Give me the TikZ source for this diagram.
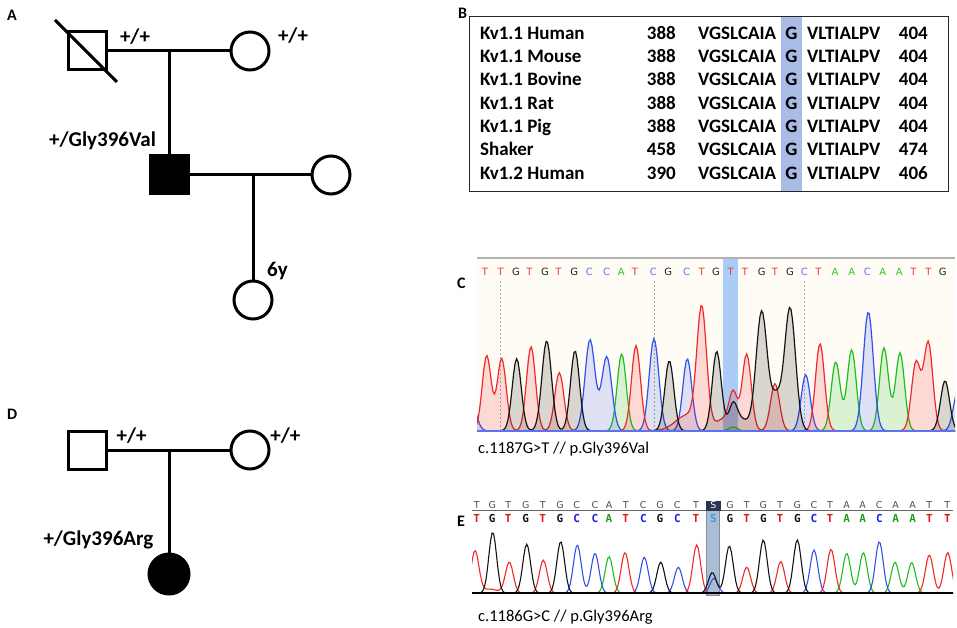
\documentclass[tikz,border=0pt]{standalone}
\usepackage{fontspec}
\setmainfont{Carlito}
\newfontfamily\dvs{DejaVu Sans}
\newfontfamily\dvm{DejaVu Sans Mono}
\definecolor{cR}{RGB}{240,40,40}
\definecolor{cK}{RGB}{20,20,20}
\definecolor{cB}{RGB}{50,80,235}
\definecolor{cG}{RGB}{30,190,30}
\definecolor{hlB}{RGB}{170,188,230}
\definecolor{hlC}{RGB}{170,205,248}
\definecolor{hlE}{RGB}{172,188,212}
\definecolor{navy}{RGB}{40,55,80}
\definecolor{cream}{RGB}{255,252,245}
% letters panel C
\definecolor{lcT}{RGB}{240,60,60}
\definecolor{lcG}{RGB}{30,30,30}
\definecolor{lcC}{RGB}{100,115,240}
\definecolor{lcA}{RGB}{40,200,40}
% letters panel E
\definecolor{leT}{RGB}{230,20,20}
\definecolor{leG}{RGB}{20,20,20}
\definecolor{leC}{RGB}{30,30,230}
\definecolor{leA}{RGB}{30,160,30}
\definecolor{leS}{RGB}{60,160,220}
\def\letS{S}
\begin{document}
\begin{tikzpicture}[x=1pt,y=-1pt,
  declare function={
    pk(\xa,\ca,\ha,\sa)=\ha*exp(-0.5*(min(abs(\xa-\ca)/\sa,4))^2);
    redC(\xa)=pk(\xa,486.7,75,4.5)+pk(\xa,501.7,72,4.5)+pk(\xa,531,84,4.5)+pk(\xa,559.3,58,4.5)+pk(\xa,636,85,4.5)+pk(\xa,701.7,117,4.8)+pk(\xa,688,16,12)+pk(\xa,725,12,9)+pk(\xa,733.3,32,4)+pk(\xa,746.7,76,4.5)+pk(\xa,775,47,4.5)+pk(\xa,820,87,4.5)+pk(\xa,916,68,4.5)+pk(\xa,928.3,88,4.5);
    blkC(\xa)=pk(\xa,516.7,72,4.5)+pk(\xa,546.7,90,4.8)+pk(\xa,575,80,4.5)+pk(\xa,669.3,70,4.5)+pk(\xa,716.7,79,4.5)+pk(\xa,740,12,9)+pk(\xa,733,20,4)+pk(\xa,761.7,119,5.5)+pk(\xa,776,32,5)+pk(\xa,790,123,5.5)+pk(\xa,945,50,4.5);
    bluC(\xa)=pk(\xa,471,30,5)+pk(\xa,590,91,5)+pk(\xa,606.7,74,5)+pk(\xa,654,92,4.8)+pk(\xa,687.3,72,4.5)+pk(\xa,805.7,56,4.5)+pk(\xa,868.3,119,5)+pk(\xa,958,40,4.5);
    grnC(\xa)=pk(\xa,621.7,77,4.5)+pk(\xa,733,4,4)+pk(\xa,835.7,69,4.5)+pk(\xa,851.7,81,4.5)+pk(\xa,884,83,4.5)+pk(\xa,900,78,4.5);
    redE(\xa)=pk(\xa,475,42,3.9)+pk(\xa,490,4,8)+pk(\xa,509.3,31,3.9)+pk(\xa,543.3,33,3.9)+pk(\xa,625,40.6,3.9)+pk(\xa,696.7,48.3,3.9)+pk(\xa,746.7,26,3.9)+pk(\xa,780.7,31.6,3.9)+pk(\xa,831,44,3.9)+pk(\xa,929.3,38.3,3.9)+pk(\xa,947.7,40.6,3.9);
    blkE(\xa)=pk(\xa,492.7,61,3.9)+pk(\xa,526.7,49,3.9)+pk(\xa,560.7,51.6,3.9)+pk(\xa,660.7,31,3.9)+pk(\xa,712.3,20.6,3.9)+pk(\xa,729.3,47.3,3.9)+pk(\xa,763.3,53.3,3.9)+pk(\xa,797.3,53.3,3.9);
    bluE(\xa)=pk(\xa,577.3,48.3,3.9)+pk(\xa,595,40,3.9)+pk(\xa,644.3,36,3.9)+pk(\xa,678.3,26,3.9)+pk(\xa,714,15,3.9)+pk(\xa,814,43.3,3.9)+pk(\xa,879.3,51.6,3.9);
    grnE(\xa)=pk(\xa,609,36.6,3.9)+pk(\xa,846.7,40,3.9)+pk(\xa,863.3,40.6,3.9)+pk(\xa,895,31,3.9)+pk(\xa,911.7,30.6,3.9);
  },
  ped/.style={line width=3pt},
  male/.style={draw,rectangle,line width=3pt,minimum size=38pt,inner sep=0pt},
  female/.style={draw,circle,line width=3pt,minimum size=38pt,inner sep=0pt},
  plbl/.style={font=\fontsize{21}{21}\selectfont\bfseries,inner sep=0pt},
  panel/.style={font=\fontsize{16}{16}\selectfont\bfseries,inner sep=0pt,anchor=base west},
  tb/.style={font=\fontsize{19}{19}\selectfont\bfseries,inner sep=0pt},
  captxt/.style={font=\fontsize{16.5}{16.5}\selectfont,inner sep=0pt,anchor=base west},
  chC/.style={line width=1.2pt,fill opacity=0.16},
  chE/.style={line width=1.1pt},
]
\useasboundingbox (0,0) rectangle (957,628);

% ---------------- Panel labels
\node[panel] (lA) at (7,21) {A};
\node[panel] (lB) at (458,19) {B};
\node[panel] (lC) at (457,288) {C};
\node[panel] (lD) at (7,419) {D};
\node[panel] (lE) at (457,526) {E};

% ---------------- Panel A pedigree
\node[male] (a1) at (87,51) {};
\draw[ped] (55,20) -- (117,82);
\node[female] (a2) at (250,51) {};
\coordinate (a12) at (169,51);
\draw[ped] (a1) -- (a2);
\node[male,fill=black] (a3) at (169,175) {};
\draw[ped] (a12) -- (a3);
\node[female] (a4) at (331,175) {};
\draw[ped] (a3) -- (a4);
\coordinate (a34) at (253,175);
\node[female] (a5) at (253,300) {};
\draw[ped] (a34) -- (a5);
\node[plbl] (ta1) at (135,37) {+/+};
\node[plbl] (ta2) at (293,35.5) {+/+};
\node[plbl,anchor=base west] (ta3) at (49,146.7) {+/Gly396Val};
\node[plbl,anchor=base west] (ta5) at (267,276.7) {6y};

% ---------------- Panel D pedigree
\node[male] (d1) at (87,450) {};
\node[female] (d2) at (250,450) {};
\coordinate (d12) at (169,450);
\draw[ped] (d1) -- (d2);
\node[female,fill=black,minimum size=40pt] (d3) at (169,574) {};
\draw[ped] (d12) -- (d3);
\node[plbl] (td1) at (131.7,435.3) {+/+};
\node[plbl] (td2) at (285.3,435.8) {+/+};
\node[plbl,anchor=base west] (td3) at (43.3,545.7) {+/Gly396Arg};

% ---------------- Panel B alignment
\fill[hlB] (781,15.7) rectangle (802,190.7);
\node[draw=black!85,line width=1.2pt,minimum width=479pt,minimum height=175pt,inner sep=0pt,anchor=north west] (boxB) at (469,15.7) {};
\foreach \nm/\st/\en [count=\i from 0] in {Kv1.1 Human/388/404,Kv1.1 Mouse/388/404,Kv1.1 Bovine/388/404,Kv1.1 Rat/388/404,Kv1.1 Pig/388/404,Shaker/458/474,Kv1.2 Human/390/406}{
  \node[tb,anchor=base west] (bn\i) at (480,{39.3+23.33*\i}) {\nm};
  \node[tb,anchor=base east] (bs\i) at (676,{39.3+23.33*\i}) {\st};
  \node[tb,anchor=base west] (bq\i) at (698,{39.3+23.33*\i}) {VGSLCAIA};
  \node[tb,anchor=base] (bg\i) at (791.5,{39.3+23.33*\i}) {G};
  \node[tb,anchor=base west] (br\i) at (807,{39.3+23.33*\i}) {VLTIALPV};
  \node[tb,anchor=base east] (be\i) at (928,{39.3+23.33*\i}) {\en};
}

% ---------------- Panel C chromatogram
\fill[cream] (477,258) rectangle (955,431);
\draw[black!30,line width=1.2pt] (477,258) -- (955,258);
\fill[hlC] (723.3,258.6) rectangle (737.7,431);
\foreach \gx in {500.7,654.3,804}{\draw[black!35,line width=0.8pt,dash pattern=on 2pt off 2pt] (\gx,281) -- (\gx,430);}
\foreach \ch/\xx [count=\i] in {T/485,T/500.7,G/516,T/529.3,G/545,T/558.3,G/574.3,C/589.3,C/606.7,A/621.3,T/635,C/653.3,G/668.3,C/686.7,T/701.7,G/716,T/730.7,T/745,G/761.7,T/775,G/790,C/804.3,T/818.3,A/835,A/851.7,C/867.3,A/882.7,A/899.3,T/913.3,T/928.3,G/942.7}{
  \node[inner sep=0pt,anchor=base,text=lc\ch,font=\dvs\fontsize{10}{10}\selectfont] (cl\i) at (\xx,275) {\ch};
}
\begin{scope}
\clip (477,259) rectangle (955,432);
\filldraw[chC,draw=cG,fill=cG] plot[domain=465:965,samples=340] (\x,{431-grnC(\x)}) -- (965,431) -- (465,431) -- cycle;
\filldraw[chC,draw=cB,fill=cB] plot[domain=465:965,samples=340] (\x,{431-bluC(\x)}) -- (965,431) -- (465,431) -- cycle;
\filldraw[chC,draw=cR,fill=cR] plot[domain=465:965,samples=340] (\x,{431-redC(\x)}) -- (965,431) -- (465,431) -- cycle;
\filldraw[chC,draw=cK,fill=cK] plot[domain=465:965,samples=340] (\x,{431-blkC(\x)}) -- (965,431) -- (465,431) -- cycle;
\end{scope}
\draw[cB!80,line width=1.2pt] (477,431) -- (955,431);
\node[captxt] (capC) at (478,453.5) {c.1187G>T // p.Gly396Val};

% ---------------- Panel E chromatogram
\filldraw[fill=hlE,draw=hlE!75!black,line width=0.6pt] (706,510.7) rectangle (719.5,595);
\draw[black!60,line width=1.5pt] (472,510.7) -- (953,510.7);
\fill[navy] (706,500.7) rectangle (721,510.7);
\foreach \ch/\xx [count=\i] in {T/476.7,G/492.3,T/508.3,G/525.7,T/542.7,G/560,C/576.7,C/595,A/609,T/625.7,C/643.3,G/660,C/677.3,T/696,S/713.3,G/730,T/746.7,G/763.3,T/780,G/797.3,C/814,T/830,A/846.7,A/862.7,C/879.3,A/895.7,A/912.7,T/929.3,T/947.3}{
  \ifx\ch\letS
    \node[inner sep=0pt,anchor=base,text=white,font=\dvs\fontsize{9.5}{9.5}\selectfont] (et\i) at (\xx,508.5) {\ch};
  \else
    \node[inner sep=0pt,anchor=base,text=black!70,font=\dvs\fontsize{9.5}{9.5}\selectfont] (et\i) at (\xx,508.5) {\ch};
  \fi
  \node[inner sep=0pt,anchor=base,text=le\ch,font=\dvm\bfseries\fontsize{11}{11}\selectfont] (eb\i) at (\xx,522) {\ch};
}
\begin{scope}
\clip (472,520) rectangle (953,594);
\draw[chE,draw=cG] plot[domain=465:960,samples=330] (\x,{593.3-grnE(\x)});
\draw[chE,draw=cB] plot[domain=465:960,samples=330] (\x,{593.3-bluE(\x)});
\draw[chE,draw=cR] plot[domain=465:960,samples=330] (\x,{593.3-redE(\x)});
\draw[chE,draw=cK] plot[domain=465:960,samples=330] (\x,{593.3-blkE(\x)});
\end{scope}
\draw[black,line width=2pt] (472,593.3) -- (953,593.3);
\node[captxt] (capE) at (478,621.7) {c.1186G>C // p.Gly396Arg};
\end{tikzpicture}
\end{document}
